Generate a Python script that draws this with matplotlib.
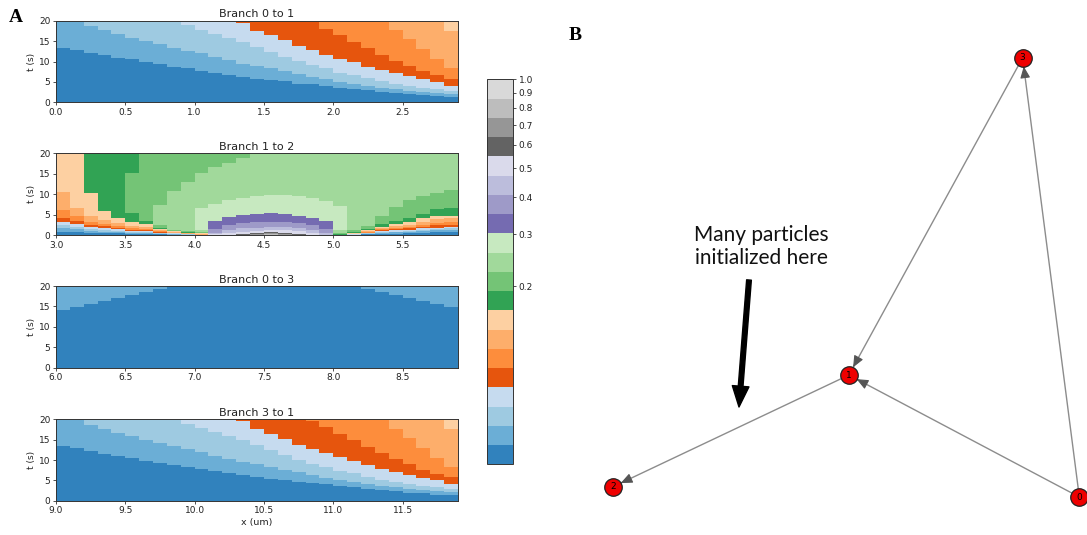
import numpy as np
import matplotlib
matplotlib.use("Agg")
import matplotlib.pyplot as plt
from matplotlib.colors import LogNorm
from matplotlib.cm import ScalarMappable

# ---------------- data ----------------
N_LEVELS = 20
T_MAX = 20.0
COL_W = 0.1

# x start of each branch panel (29 columns of width 0.1 each)
branch_titles = ["Branch 0 to 1", "Branch 1 to 2", "Branch 0 to 3", "Branch 3 to 1"]
branch_x0 = [0.0, 3.0, 6.0, 9.0]
branch_xticks = [[0.0, 0.5, 1.0, 1.5, 2.0, 2.5],
                 [3.0, 3.5, 4.0, 4.5, 5.0, 5.5],
                 [6.0, 6.5, 7.0, 7.5, 8.0, 8.5],
                 [9.0, 9.5, 10.0, 10.5, 11.0, 11.5]]
n_cols = 29

# Branch 0 to 1: t (s) at top of each colour level, per column (levels increase with t)
b01_top_L0 = [13.4, 12.9, 12.1, 11.5, 10.9, 10.5, 9.8, 9.3, 8.7, 8.3, 7.7, 7.3, 6.7, 6.3, 5.8,
              5.4, 5.2, 4.6, 4.4, 4.0, 3.6, 3.3, 2.9, 2.6, 2.3, 2.0, 1.8, 1.5, 1.4]
b01_top_L1 = [20, 19.8, 18.6, 17.6, 16.7, 15.8, 15.0, 14.2, 13.4, 12.6, 12.0, 11.1, 10.3, 9.5, 8.9,
              8.3, 7.6, 7.0, 6.3, 5.7, 5.0, 4.5, 4.1, 3.6, 3.3, 2.8, 2.6, 2.4, 2.1]
b01_top_L2 = [20, 20, 20, 20, 20, 20, 20, 20, 19.8, 18.9, 17.8, 16.8, 15.8, 14.8, 13.6,
              12.4, 11.2, 10.1, 9.1, 8.3, 7.3, 6.7, 5.9, 5.2, 4.6, 4.1, 3.6, 3.3, 2.8]
b01_top_L3 = [20, 20, 20, 20, 20, 20, 20, 20, 20, 20, 20, 20, 20, 19.5, 17.5,
              16.4, 15.2, 13.8, 12.8, 11.7, 10.7, 9.8, 8.7, 7.9, 7.1, 6.4, 5.6, 5.0, 4.1]
b01_top_L4 = [20, 20, 20, 20, 20, 20, 20, 20, 20, 20, 20, 20, 20, 20, 20,
              20, 20, 20, 19.6, 18.0, 16.5, 14.8, 13.2, 11.6, 10.2, 8.9, 7.6, 6.6, 5.8]
b01_top_L5 = [20, 20, 20, 20, 20, 20, 20, 20, 20, 20, 20, 20, 20, 20, 20,
              20, 20, 20, 20, 20, 20, 20, 20, 19.8, 17.6, 15.5, 13.0, 10.5, 8.3]
b01_top_L6 = [20, 20, 20, 20, 20, 20, 20, 20, 20, 20, 20, 20, 20, 20, 20,
              20, 20, 20, 20, 20, 20, 20, 20, 20, 20, 20, 20, 20, 17.5]

# Branch 3 to 1 reads the same as Branch 0 to 1
b31_top_L0 = list(b01_top_L0)
b31_top_L1 = list(b01_top_L1)
b31_top_L2 = list(b01_top_L2)
b31_top_L3 = list(b01_top_L3)
b31_top_L4 = list(b01_top_L4)
b31_top_L5 = list(b01_top_L5)
b31_top_L6 = list(b01_top_L6)

# Branch 0 to 3: top of darkest-blue level per column
b03_top_L0 = [14.1, 14.9, 15.5, 16.4, 17.0, 17.9, 18.5, 19.2, 20, 20, 20, 20, 20, 20, 20,
              20, 20, 20, 20, 20, 20, 20, 19.2, 18.5, 17.9, 17.0, 16.4, 15.5, 14.9]

# Branch 1 to 2: per column, colour levels from t=0 upward and the t at top of each
b12_levels = [
    [0, 1, 2, 3, 4, 5, 6, 7],
    [0, 1, 2, 3, 4, 5, 6, 7],
    [0, 1, 2, 3, 4, 5, 6, 7, 8],
    [0, 1, 2, 3, 4, 5, 6, 7, 8],
    [0, 1, 2, 3, 4, 5, 6, 7, 8],
    [0, 1, 2, 3, 4, 5, 6, 7, 8, 9, 8],
    [0, 1, 2, 3, 4, 5, 6, 7, 8, 9],
    [0, 1, 2, 3, 4, 5, 6, 7, 8, 9, 10, 9],
    [0, 1, 2, 3, 4, 5, 6, 7, 8, 9, 10, 9],
    [0, 2, 4, 5, 6, 7, 8, 9, 10, 9],
    [4, 6, 7, 8, 9, 10, 11, 10, 9],
    [15, 14, 13, 12, 11, 10, 9],
    [15, 14, 13, 12, 11, 10, 9],
    [16, 15, 14, 13, 12, 11, 10, 9],
    [17, 16, 15, 14, 13, 12, 11, 10],
    [18, 17, 16, 15, 14, 13, 12, 11, 10],
    [17, 16, 15, 14, 13, 12, 11, 10],
    [16, 15, 14, 13, 12, 11, 10],
    [15, 14, 13, 12, 11, 10],
    [14, 13, 12, 11, 10],
    [6, 8, 9, 10, 11, 10],
    [0, 3, 5, 7, 8, 9, 10],
    [0, 1, 2, 4, 5, 6, 7, 8, 9, 10],
    [0, 1, 2, 3, 4, 5, 6, 7, 8, 9, 10],
    [0, 1, 2, 3, 4, 5, 6, 7, 8, 9, 10],
    [0, 1, 2, 3, 4, 5, 6, 7, 8, 9, 10],
    [0, 1, 2, 3, 4, 5, 6, 7, 8, 9, 10],
    [0, 1, 2, 3, 4, 5, 6, 7, 8, 9, 10],
    [0, 1, 2, 3, 4, 5, 6, 7, 8, 9, 10],
]
b12_tops = [
    [0.9, 1.7, 2.5, 3.3, 4.3, 6.2, 10.6, 20],
    [0.9, 1.5, 2.1, 2.8, 3.6, 4.6, 6.6, 20],
    [0.6, 1.1, 1.6, 2.1, 2.6, 3.3, 4.6, 10.2, 20],
    [0.5, 0.9, 1.3, 1.7, 2.2, 2.8, 3.8, 5.9, 20],
    [0.45, 0.8, 1.1, 1.5, 1.8, 2.3, 3.0, 4.2, 20],
    [0.3, 0.55, 0.8, 1.0, 1.3, 1.7, 2.2, 3.3, 5.4, 15.1, 20],
    [0.25, 0.5, 0.75, 1.0, 1.3, 1.6, 2.0, 2.8, 3.6, 20],
    [0.2, 0.35, 0.5, 0.65, 0.8, 1.0, 1.2, 1.5, 1.9, 2.4, 7.4, 20],
    [0.15, 0.25, 0.35, 0.45, 0.55, 0.65, 0.8, 0.95, 1.1, 1.4, 10.8, 20],
    [0.1, 0.2, 0.3, 0.4, 0.5, 0.65, 0.85, 1.1, 13.1, 20],
    [0.15, 0.3, 0.45, 0.65, 0.9, 1.3, 6.6, 15.1, 20],
    [0.2, 0.6, 1.6, 3.5, 7.6, 16.7, 20],
    [0.5, 1.2, 2.4, 4.4, 8.6, 17.7, 20],
    [0.3, 0.9, 1.7, 2.9, 5.0, 9.2, 18.8, 20],
    [0.2, 0.5, 1.0, 1.9, 3.2, 5.3, 9.7, 20],
    [0.3, 0.6, 0.9, 1.4, 2.1, 3.3, 5.4, 9.9, 20],
    [0.3, 0.6, 1.2, 2.0, 3.2, 5.2, 9.8, 20],
    [0.4, 1.0, 1.8, 2.9, 4.8, 9.5, 20],
    [0.6, 1.3, 2.4, 4.3, 9.0, 20],
    [0.5, 1.5, 3.4, 8.3, 20],
    [0.1, 0.3, 0.6, 1.2, 7.1, 20],
    [0.1, 0.25, 0.4, 0.6, 0.9, 1.4, 20],
    [0.2, 0.35, 0.45, 0.6, 0.8, 1.0, 1.3, 1.6, 2.3, 20],
    [0.35, 0.6, 0.8, 1.0, 1.2, 1.5, 1.8, 2.1, 2.7, 4.6, 20],
    [0.4, 0.7, 0.9, 1.2, 1.5, 1.8, 2.3, 2.8, 3.5, 7.0, 20],
    [0.5, 0.8, 1.1, 1.4, 1.7, 2.1, 2.6, 3.3, 4.3, 8.5, 20],
    [0.6, 1.0, 1.4, 1.7, 2.0, 2.6, 3.3, 4.1, 5.2, 9.7, 20],
    [0.7, 1.2, 1.5, 1.9, 2.4, 3.0, 4.0, 4.6, 6.3, 10.4, 20],
    [0.8, 1.3, 1.7, 2.0, 2.5, 3.3, 4.2, 4.8, 6.6, 11.1, 20],
]

cbar_ticks = [0.2, 0.3, 0.4, 0.5, 0.6, 0.7, 0.8, 0.9, 1.0]
cbar_ticklabels = ["0.2", "0.3", "0.4", "0.5", "0.6", "0.7", "0.8", "0.9", "1.0"]

# graph (panel B)
node_ids = ["0", "1", "2", "3"]
node_x = [0.985, 0.534, 0.072, 0.874]
node_y = [0.071, 0.299, 0.090, 0.892]
edges = [(0, 1), (0, 3), (3, 1), (1, 2)]
annotation_text = "Many particles\ninitialized here"


# ---------------- helpers ----------------
def increasing_segments(level_tops):
    """Turn per-level top arrays into per-column (levels, tops) lists."""
    levels_out, tops_out = [], []
    for c in range(n_cols):
        lv, tp = [], []
        prev = 0.0
        for k, arr in enumerate(level_tops):
            if arr[c] > prev:
                lv.append(k)
                tp.append(arr[c])
                prev = arr[c]
        if prev < T_MAX:
            lv.append(len(level_tops))
            tp.append(T_MAX)
        levels_out.append(lv)
        tops_out.append(tp)
    return levels_out, tops_out


cmap = plt.get_cmap("tab20c")
norm = LogNorm(vmin=0.05, vmax=1.0)


def level_color(k):
    value = norm.inverse((k + 0.5) / N_LEVELS)
    return cmap(norm(value))


panel_data = [
    increasing_segments([b01_top_L0, b01_top_L1, b01_top_L2, b01_top_L3,
                         b01_top_L4, b01_top_L5, b01_top_L6]),
    (b12_levels, b12_tops),
    increasing_segments([b03_top_L0]),
    increasing_segments([b31_top_L0, b31_top_L1, b31_top_L2, b31_top_L3,
                         b31_top_L4, b31_top_L5, b31_top_L6]),
]

# ---------------- figure ----------------
W, H = 1087, 535
fig = plt.figure(figsize=(W / 100, H / 100), dpi=100)


def fx(px):
    return px / W


def fy(py):
    return 1 - py / H


axes_px = [(20.7, 102.3), (153.3, 235.3), (286.0, 367.7), (419.3, 500.7)]
for i, (top, bot) in enumerate(axes_px):
    ax = fig.add_axes([fx(56), fy(bot), fx(458) - fx(56), (bot - top) / H])
    levels, tops = panel_data[i]
    x0 = branch_x0[i]
    for c in range(n_cols):
        xl = x0 + c * COL_W
        bottom = 0.0
        for k, t in zip(levels[c], tops[c]):
            ax.bar(xl, t - bottom, width=COL_W, bottom=bottom, align="edge",
                   color=level_color(k), linewidth=0, antialiased=False)
            bottom = t
    ax.set_xlim(x0, x0 + n_cols * COL_W)
    ax.set_ylim(0, T_MAX)
    ax.set_xticks(branch_xticks[i])
    ax.set_xticklabels([f"{v:.1f}" for v in branch_xticks[i]])
    ax.set_yticks([0, 5, 10, 15, 20])
    ax.tick_params(labelsize=6.5, length=2.5, width=0.6, pad=1.5, color="#333333",
                   labelcolor="#222222")
    for s in ax.spines.values():
        s.set_linewidth(0.7)
        s.set_color("#333333")
    ax.set_title(branch_titles[i], fontsize=8, pad=2.5, color="#222222")
    ax.set_ylabel("t (s)", fontsize=6.5, labelpad=2, color="#222222")
    if i == 3:
        ax.set_xlabel("x (um)", fontsize=6.8, labelpad=2, color="#222222")

# colour bar
cax = fig.add_axes([fx(486.7), fy(464.3), fx(513.3) - fx(486.7), 385 / H])
sm = ScalarMappable(norm=norm, cmap=cmap)
cb = fig.colorbar(sm, cax=cax)
cb.set_ticks(cbar_ticks)
cb.set_ticklabels(cbar_ticklabels)
cb.ax.minorticks_off()
cb.ax.tick_params(labelsize=6.5, length=2.5, width=0.6, pad=1.5, color="#333333",
                  labelcolor="#222222")
cb.outline.set_linewidth(0.7)
cb.outline.set_edgecolor("#333333")

# panel letters
fig.text(fx(16), fy(17), "A", fontsize=14, fontweight="bold", family="Liberation Serif",
         ha="center", va="center")
fig.text(fx(575), fy(35), "B", fontsize=14, fontweight="bold", family="Liberation Serif",
         ha="center", va="center")

# ---------------- panel B: graph ----------------
axb = fig.add_axes([fx(576), 0.0, 1 - fx(576), 1.0])
axb.set_xlim(0, 1)
axb.set_ylim(0, 1)
axb.axis("off")
axb.set_zorder(-1)

node_r_pt = 6.3
for s, t in edges:
    p0 = (node_x[s], node_y[s])
    p1 = (node_x[t], node_y[t])
    axb.annotate("", xy=p1, xytext=p0,
                 arrowprops=dict(arrowstyle="-", color="#8c8c8c", lw=1.0,
                                 shrinkA=node_r_pt, shrinkB=node_r_pt))
    # dark arrow head near the target
    frac = 0.965
    near = (p0[0] + (p1[0] - p0[0]) * frac, p0[1] + (p1[1] - p0[1]) * frac)
    axb.annotate("", xy=p1, xytext=near,
                 arrowprops=dict(arrowstyle="-|>,head_length=0.7,head_width=0.3",
                                 color="#555555", lw=0.8,
                                 shrinkA=0, shrinkB=node_r_pt, mutation_scale=10))

axb.scatter(node_x, node_y, s=(2 * node_r_pt) ** 2, c="#ee0000", edgecolors="#222222",
            linewidths=0.9, zorder=3, clip_on=False)
for nid, x, y in zip(node_ids, node_x, node_y):
    axb.text(x, y, nid, fontsize=6.5, ha="center", va="center", zorder=4, clip_on=False)

# annotation text and thick arrow
fig.text(fx(761), fy(246.5), annotation_text, fontsize=15, family="Lato",
         ha="center", va="center", linespacing=1.2, color="#111111")
axb.annotate("", xy=((739 - 576) / (W - 576), fy(407)),
             xytext=((749 - 576) / (W - 576), fy(280)),
             arrowprops=dict(width=3.4, headwidth=12, headlength=15, color="black"))

fig.savefig("out.png", dpi=100)
